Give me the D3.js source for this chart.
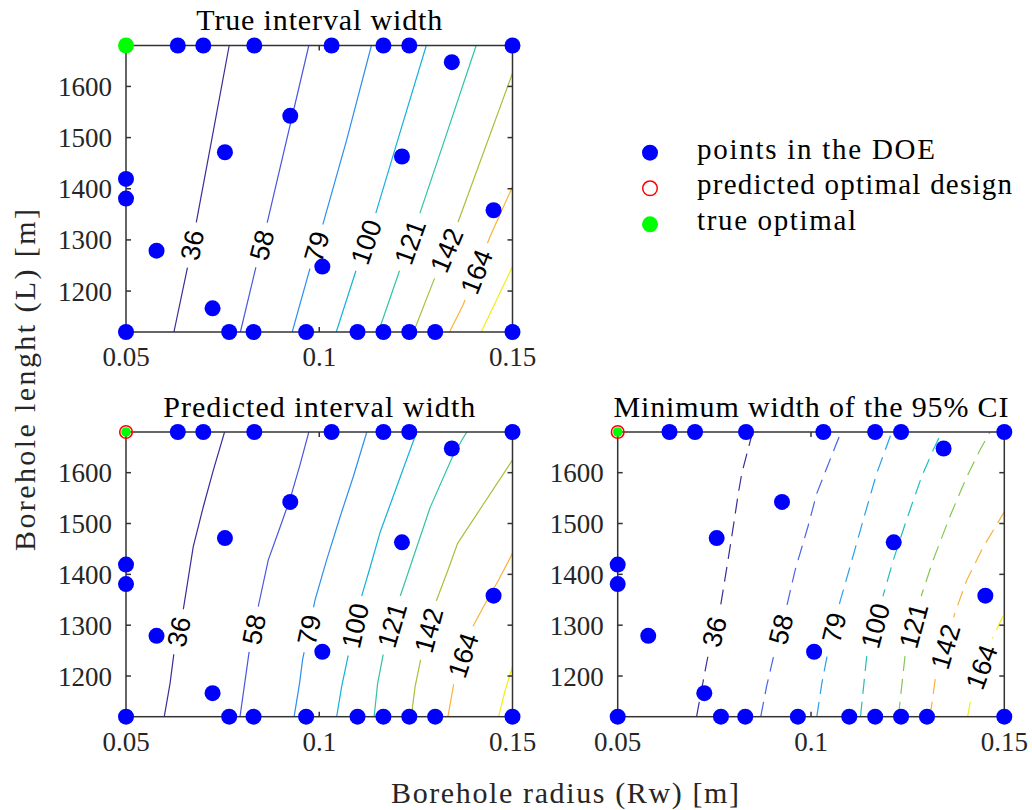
<!DOCTYPE html>
<html>
<head>
<meta charset="utf-8">
<script src="https://cdn.jsdelivr.net/npm/d3@7"></script>
<style>
  body { margin: 0; background: #fff; }
  svg { display: block; }
</style>
</head>
<body>
<svg id="fig" width="1032" height="810"></svg>
<script>
// ---------------- data ----------------
const rwDomain = [0.05, 0.15];
const lenDomain = [1120, 1680];
const rwTicks = [0.05, 0.1, 0.15];
const lenTicks = [1200, 1300, 1400, 1500, 1600];
const levels = [36, 58, 79, 100, 121, 142, 164, 185];

// design-of-experiments points (borehole radius, borehole length)
const doeRw = [0.0634, 0.0700, 0.0832, 0.1032, 0.1166, 0.1233, 0.15,
               0.05, 0.0767, 0.0830, 0.0966, 0.1099, 0.1166, 0.1233, 0.1300, 0.15,
               0.1343, 0.0925, 0.0756, 0.1214, 0.05, 0.05, 0.1451, 0.0579, 0.1008, 0.0724];
const doeLen = [1680, 1680, 1680, 1680, 1680, 1680, 1680,
                1120, 1120, 1120, 1120, 1120, 1120, 1120, 1120, 1120,
                1647.5, 1542.5, 1471.4, 1463, 1419.3, 1380.8, 1358, 1279, 1247.8, 1166.3];
const trueOptimum = [0.05, 1680];
const predictedOptimum = [0.05, 1680];

// iso-lines of the true interval width, one per level
const trueWidthLines = [
  [[0.0624,1120],[0.0659,1246],[0.0681,1331],[0.0724,1505],[0.0767,1680]],
  [[0.0796,1120],[0.0836,1246.5],[0.0864,1329.3],[0.0973,1680]],
  [[0.0930,1120],[0.0975,1241.3],[0.1009,1329.3],[0.1071,1495.6],[0.1135,1680]],
  [[0.1044,1120],[0.1097,1244.5],[0.1145,1348.9],[0.1211,1515],[0.1277,1680]],
  [[0.1153,1120],[0.1209,1242.6],[0.1259,1348.9],[0.1333,1515],[0.1406,1680]],
  [[0.1244,1120],[0.1300,1228.2],[0.1358,1332.6],[0.15,1626]],
  [[0.1337,1120],[0.1372,1172.8],[0.1442,1306.5],[0.15,1404.3]],
  [[0.1419,1120],[0.15,1247.8]]
];
const trueWidthLabelAt = [1290, 1290, 1287, 1296, 1296, 1280, 1238, null];

// iso-lines of the predicted interval width
const predWidthLines = [
  [[0.0599,1120],[0.0614,1185.6],[0.0624,1244.6],[0.0648,1329.8],[0.0674,1454.4],[0.0700,1533],[0.0726,1605],[0.0755,1680]],
  [[0.0795,1120],[0.0818,1244.6],[0.0843,1339.7],[0.0868,1428],[0.0899,1493.7],[0.0925,1549.5],[0.0950,1615],[0.0973,1680]],
  [[0.0935,1120],[0.0949,1185.6],[0.0957,1232.8],[0.0989,1349.5],[0.1019,1428],[0.1054,1513.4],[0.1088,1592],[0.1123,1680]],
  [[0.1045,1120],[0.1058,1179],[0.1076,1244.6],[0.1108,1352.8],[0.1132,1415],[0.1158,1483.9],[0.1202,1575.7],[0.1252,1680]],
  [[0.1142,1120],[0.1151,1185.6],[0.1166,1244.6],[0.1209,1356],[0.1241,1428.2],[0.1287,1531.8],[0.1343,1628.2],[0.1369,1664.2],[0.1382,1680]],
  [[0.1238,1120],[0.1248,1179],[0.1263,1234.7],[0.1302,1346.2],[0.1330,1402],[0.1358,1461],[0.15,1624.9]],
  [[0.1333,1120],[0.1349,1188.8],[0.1395,1293.8],[0.1425,1336.4],[0.1464,1388.8],[0.15,1441.3]],
  [[0.1464,1120],[0.1481,1172],[0.15,1218.4]]
];
const predWidthLabelAt = [1287, 1292, 1291, 1299, 1300, 1290, 1241, null];

// iso-lines of the minimum width of the 95% CI
const minWidthLines = [
  [[0.0704,1120],[0.0720,1185.6],[0.0734,1241.3],[0.0765,1333.1],[0.0784,1421.6],[0.0799,1493.7],[0.0812,1559.3],[0.0821,1598.7],[0.0849,1680]],
  [[0.0870,1120],[0.0885,1179],[0.0904,1241.3],[0.0939,1343],[0.0959,1408.5],[0.0992,1493.7],[0.1015,1559.3],[0.1066,1657.7],[0.1078,1680]],
  [[0.1015,1120],[0.1028,1185.6],[0.1043,1244.6],[0.1075,1346.2],[0.1101,1415],[0.1140,1520],[0.1170,1598.7],[0.1209,1680]],
  [[0.1128,1120],[0.1144,1238],[0.1187,1359.3],[0.1213,1428.2],[0.1247,1506.9],[0.1286,1592],[0.1316,1644.5],[0.1338,1680]],
  [[0.1226,1120],[0.1243,1238],[0.1286,1359.3],[0.1316,1428.2],[0.1359,1513.4],[0.1403,1592],[0.1437,1644.5],[0.1463,1680]],
  [[0.1308,1120],[0.1321,1192],[0.1372,1323.3],[0.1403,1388.8],[0.1446,1454.4],[0.15,1523]],
  [[0.1405,1120],[0.1418,1172.5],[0.1463,1264.3],[0.15,1323.3]]
];
const minWidthLabelAt = [1287, 1292, 1295, 1299, 1299, 1258, 1218];

const panelTitles = ["True interval width", "Predicted interval width", "Minimum width of the 95% CI"];
const legendLabels = ["points in the DOE", "predicted optimal design", "true optimal"];
const xAxisTitle = "Borehole radius (Rw) [m]";
const yAxisTitle = "Borehole lenght (L) [m]";

// ---------------- styles ----------------
const serif = "'Liberation Serif', 'Times New Roman', serif";
const sans = "'Liberation Sans', Arial, sans-serif";
const axisColor = "#333333";
const solidColors = ["#3b2c97", "#4b55e2", "#2b8ef0", "#12b2d8", "#2ec4a3", "#a5c23a", "#f9b33a", "#f2ee14"];
const dashedColors = ["#3b2c97", "#4a62ea", "#2a9fea", "#1fc0b8", "#82c94f", "#f7b13d", "#f2ee14"];

const panels = [
  { left: 126, top: 45.5, width: 386.5, height: 286.5, lines: trueWidthLines, labelAt: trueWidthLabelAt,
    colors: solidColors, dash: null, predicted: false, titleWidth: 246 },
  { left: 126, top: 432, width: 386.5, height: 284.7, lines: predWidthLines, labelAt: predWidthLabelAt,
    colors: solidColors, dash: null, predicted: true, titleWidth: 312 },
  { left: 617.7, top: 432, width: 386.6, height: 284.7, lines: minWidthLines, labelAt: minWidthLabelAt,
    colors: dashedColors, dash: "15,8", predicted: true, titleWidth: 395 }
];

const svg = d3.select("#fig");
const defs = svg.append("defs");

// point on a polyline at a given borehole length
function rwAt(pts, L) {
  for (let i = 0; i < pts.length - 1; i++) {
    const a = pts[i], b = pts[i + 1];
    if (L >= a[1] && L <= b[1]) {
      const t = (L - a[1]) / (b[1] - a[1]);
      return a[0] + t * (b[0] - a[0]);
    }
  }
  return L < pts[0][1] ? pts[0][0] : pts[pts.length - 1][0];
}

panels.forEach((p, k) => {
  const x = d3.scaleLinear().domain(rwDomain).range([p.left, p.left + p.width]);
  const y = d3.scaleLinear().domain(lenDomain).range([p.top + p.height, p.top]);

  const clipId = "clip" + k, maskId = "mask" + k;
  defs.append("clipPath").attr("id", clipId)
    .append("rect").attr("x", p.left).attr("y", p.top).attr("width", p.width).attr("height", p.height);
  const mask = defs.append("mask").attr("id", maskId).attr("maskUnits", "userSpaceOnUse")
    .attr("x", 0).attr("y", 0).attr("width", 1032).attr("height", 810);
  mask.append("rect").attr("x", 0).attr("y", 0).attr("width", 1032).attr("height", 810).attr("fill", "#fff");

  const g = svg.append("g");
  const lineGen = d3.line().x(d => x(d[0])).y(d => y(d[1]));

  // contour lines
  g.append("g").attr("clip-path", `url(#${clipId})`)
    .append("g").attr("mask", `url(#${maskId})`)
    .selectAll("path").data(p.lines).join("path")
    .attr("d", lineGen)
    .attr("fill", "none")
    .attr("stroke", (d, i) => p.colors[i])
    .attr("stroke-width", 1.2)
    .attr("stroke-dasharray", p.dash);

  // inline level labels
  const labelG = g.append("g");
  p.lines.forEach((pts, i) => {
    const L = p.labelAt[i];
    if (L == null) return;
    const cx = x(rwAt(pts, L)), cy = y(L);
    const x1 = x(rwAt(pts, L - 25)), y1 = y(L - 25);
    const x2 = x(rwAt(pts, L + 25)), y2 = y(L + 25);
    const ang = Math.atan2(y2 - y1, x2 - x1) * 180 / Math.PI;
    const t = labelG.append("text")
      .attr("transform", `translate(${cx},${cy}) rotate(${ang})`)
      .attr("text-anchor", "middle")
      .attr("dy", "0.36em")
      .attr("font-family", sans)
      .attr("font-size", 27)
      .attr("fill", "#000")
      .text(levels[i]);
    const w = t.node().getComputedTextLength();
    mask.append("rect")
      .attr("x", -w / 2 - 8).attr("y", -6).attr("width", w + 16).attr("height", 12)
      .attr("transform", `translate(${cx},${cy}) rotate(${ang})`)
      .attr("fill", "#000");
  });

  // axes box and inward ticks
  const ax = g.append("g").attr("stroke", axisColor).attr("stroke-width", 1.5).attr("fill", "none");
  ax.append("rect").attr("x", p.left).attr("y", p.top).attr("width", p.width).attr("height", p.height);
  const tl = 5;
  lenTicks.forEach(v => {
    ax.append("line").attr("x1", p.left).attr("x2", p.left + tl).attr("y1", y(v)).attr("y2", y(v));
    ax.append("line").attr("x1", p.left + p.width).attr("x2", p.left + p.width - tl).attr("y1", y(v)).attr("y2", y(v));
  });
  rwTicks.forEach(v => {
    ax.append("line").attr("x1", x(v)).attr("x2", x(v)).attr("y1", p.top).attr("y2", p.top + tl);
    ax.append("line").attr("x1", x(v)).attr("x2", x(v)).attr("y1", p.top + p.height).attr("y2", p.top + p.height - tl);
  });

  // tick labels
  g.append("g").selectAll("text").data(lenTicks).join("text")
    .attr("x", p.left - 14).attr("y", d => y(d) + 9.5)
    .attr("text-anchor", "end")
    .attr("font-family", serif).attr("font-size", 27).attr("fill", "#262626")
    .text(d => d);
  g.append("g").selectAll("text").data(rwTicks).join("text")
    .attr("x", d => x(d)).attr("y", p.top + p.height + 34)
    .attr("text-anchor", "middle")
    .attr("font-family", serif).attr("font-size", 27).attr("fill", "#262626")
    .text(d => String(d));

  // title
  g.append("text")
    .attr("x", p.left + p.width / 2).attr("y", p.top - 15.5)
    .attr("text-anchor", "middle")
    .attr("font-family", serif).attr("font-size", 30).attr("fill", "#000")
    .attr("textLength", p.titleWidth).attr("lengthAdjust", "spacing")
    .text(panelTitles[k]);

  // DOE points
  g.append("g").selectAll("circle").data(doeRw).join("circle")
    .attr("cx", d => x(d)).attr("cy", (d, i) => y(doeLen[i]))
    .attr("r", 8).attr("fill", "#0000ff");

  // optima
  if (p.predicted) {
    g.append("circle").attr("cx", x(predictedOptimum[0])).attr("cy", y(predictedOptimum[1]))
      .attr("r", 6.3).attr("fill", "none").attr("stroke", "#ff0000").attr("stroke-width", 1.6);
    g.append("circle").attr("cx", x(trueOptimum[0])).attr("cy", y(trueOptimum[1]))
      .attr("r", 4.8).attr("fill", "#00ff00");
  } else {
    g.append("circle").attr("cx", x(trueOptimum[0])).attr("cy", y(trueOptimum[1]))
      .attr("r", 8).attr("fill", "#00ff00");
  }
});

// shared axis titles
svg.append("text")
  .attr("x", 565).attr("y", 803)
  .attr("text-anchor", "middle")
  .attr("font-family", serif).attr("font-size", 30).attr("fill", "#262626")
  .attr("textLength", 348).attr("lengthAdjust", "spacing")
  .text(xAxisTitle);
svg.append("text")
  .attr("transform", "translate(35,380) rotate(-90)")
  .attr("text-anchor", "middle")
  .attr("font-family", serif).attr("font-size", 30).attr("fill", "#262626")
  .attr("textLength", 342).attr("lengthAdjust", "spacing")
  .text(yAxisTitle);

// legend
const legendY = [152.7, 188.3, 224.3];
const legendWidths = [238, 315, 159];
const lg = svg.append("g");
lg.append("circle").attr("cx", 650).attr("cy", legendY[0]).attr("r", 8).attr("fill", "#0000ff");
lg.append("circle").attr("cx", 650).attr("cy", legendY[1]).attr("r", 7.3)
  .attr("fill", "none").attr("stroke", "#ff0000").attr("stroke-width", 1.5);
lg.append("circle").attr("cx", 650).attr("cy", legendY[2]).attr("r", 8).attr("fill", "#00ff00");
lg.selectAll("text").data(legendLabels).join("text")
  .attr("x", 697).attr("y", (d, i) => legendY[i] + 6)
  .attr("font-family", serif).attr("font-size", 29).attr("fill", "#000")
  .attr("textLength", (d, i) => legendWidths[i]).attr("lengthAdjust", "spacing")
  .text(d => d);
</script>
</body>
</html>
